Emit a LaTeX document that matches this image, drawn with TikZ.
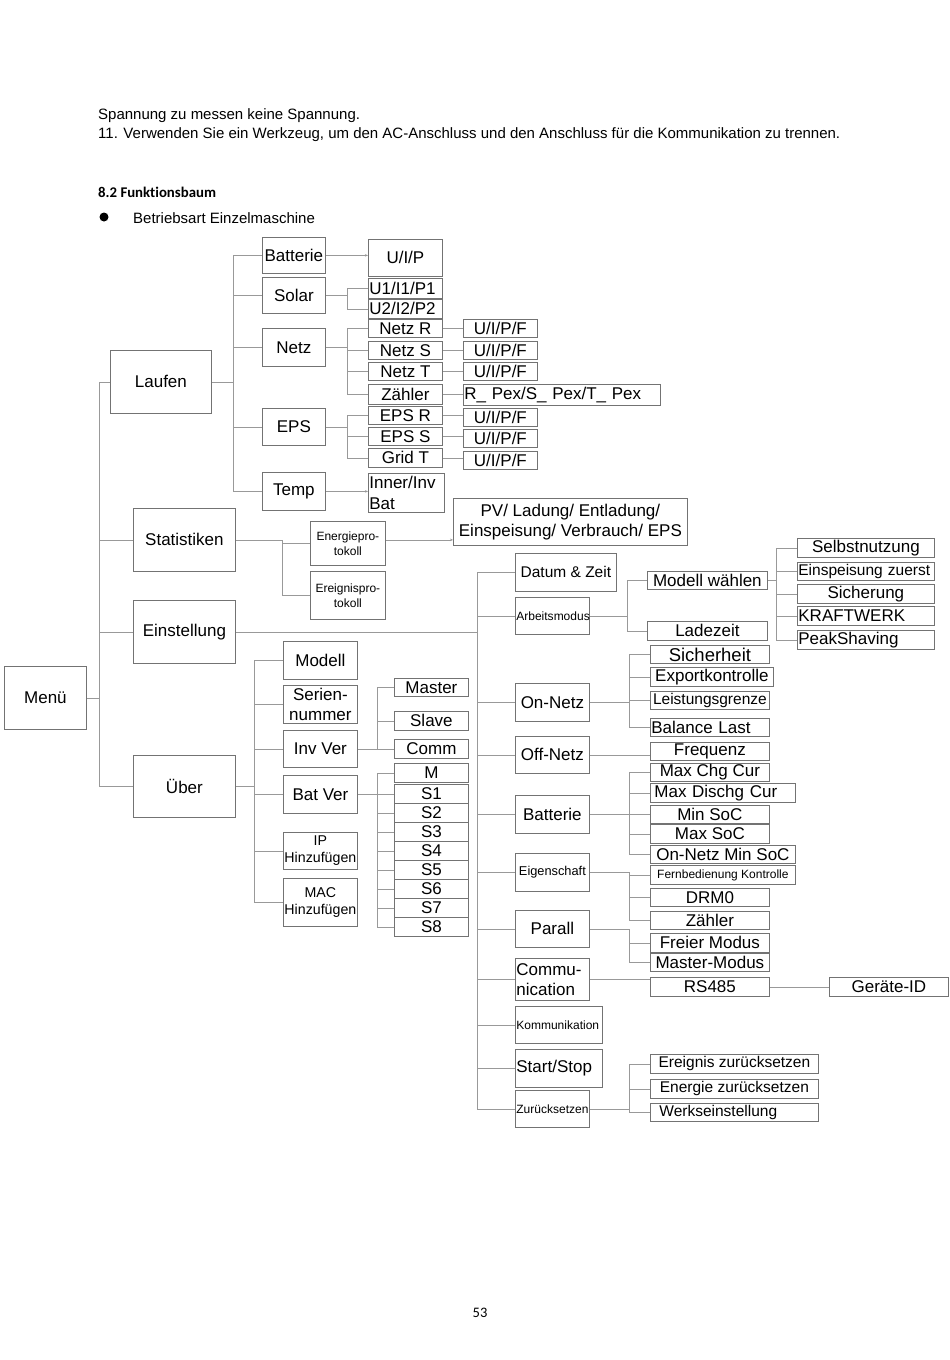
\documentclass[tikz,border=0pt]{standalone}
\usepackage{fontspec}
\setmainfont{Liberation Sans}
\newfontfamily\carlito{Carlito}[Ligatures=NoCommon]
\usetikzlibrary{arrows.meta}
\tikzset{wh/.style 2 args={minimum width=#1pt, minimum height=#2pt},
	lw/.style 2 args={wh={#1}{#2}, text width=#1pt-2pt, align=left}}

\begin{document}
\begin{tikzpicture}[x=1pt,y=-1pt]
	\tikzstyle{every node}+=[inner sep=1pt]
	\tikzstyle{bx}=[draw=black!55, line width=0.8pt, anchor=north west, align=center, font=\fontsize{17}{20.5}\selectfont]
	\tikzstyle{ln}=[draw=black!40, line width=0.8pt]
	\tikzstyle{ar}=[ln, -{Stealth[length=3pt,width=2.5pt]}]
	\tikzstyle{sm}=[font=\fontsize{12}{15}\selectfont]
	\tikzstyle{md}=[font=\fontsize{15.5}{18}\selectfont]
	\tikzstyle{hz}=[font=\fontsize{14.2}{17}\selectfont]
	\tikzstyle{txt}=[inner sep=0pt, anchor=base west, font=\fontsize{15}{18}\selectfont]
	\useasboundingbox (0,0) rectangle (950,1360);

	% page text
	\node[txt] (l1) at (98,119) {Spannung zu messen keine Spannung.};
	\node[txt] (l2) at (98,138) {11. Verwenden Sie ein Werkzeug, um den AC-Anschluss und den Anschluss für die Kommunikation zu trennen.};
	\node[txt, font=\carlito\bfseries\fontsize{14.8}{18}\selectfont] (sec) at (98,197) {8.2 Funktionsbaum};
	\fill (104,217) circle (4.5);
	\node[txt] (mode) at (133,223) {Betriebsart Einzelmaschine};
	\node[txt, anchor=base, font=\carlito\fontsize{14.5}{18}\selectfont] (page) at (480,1317) {53};

	% trunks
	\coordinate (tMenu) at (99,0);
	\coordinate (tLauf) at (233,0);
	\coordinate (tSol) at (347,0);
	\coordinate (tStat) at (282,0);
	\coordinate (tEin) at (477,0);
	\coordinate (tArb) at (627,0);
	\coordinate (tModw) at (776,0);
	\coordinate (tOn) at (629,0);
	\coordinate (tUb) at (254,0);
	\coordinate (tInv) at (377,0);

	% menu and first level
	\node[bx, wh={82}{63}] (menu) at (4,666) {Menü};
	\node[bx, wh={101}{63}] (lauf) at (110,350) {Laufen};
	\node[bx, wh={102}{63}] (stat) at (133,508) {Statistiken};
	\node[bx, wh={102}{63}] (einst) at (133,600) {Einstellung};
	\node[bx, wh={102}{62}] (ueber) at (133,755) {Über};

	% Laufen
	\node[bx, wh={63}{36}] (bat) at (262,237) {Batterie};
	\node[bx, wh={63}{36}] (sol) at (262,277) {Solar};
	\node[bx, wh={63}{38}] (netz) at (262,328) {Netz};
	\node[bx, wh={63}{37}] (eps) at (262,408) {EPS};
	\node[bx, wh={63}{38}] (temp) at (262,472) {Temp};
	\node[bx, wh={74}{37}] (uip) at (368,239) {U/I/P};
	\node[bx, lw={74}{20}] (upv1) at (368,278) {U1/I1/P1};
	\node[bx, lw={74}{19}] (upv2) at (368,299) {U2/I2/P2};
	\node[bx, wh={74}{18}] (netzR) at (368,319) {Netz R};
	\node[bx, wh={74}{18}] (netzS) at (368,341) {Netz S};
	\node[bx, wh={74}{18}] (netzT) at (368,362) {Netz T};
	\node[bx, wh={74}{20}] (zaehl) at (368,384) {Zähler};
	\node[bx, wh={74}{18}] (epsR) at (368,406) {EPS R};
	\node[bx, wh={74}{18}] (epsS) at (368,427) {EPS S};
	\node[bx, wh={74}{19}] (gridT) at (368,448) {Grid T};
	\node[bx, lw={76}{39}] (inner) at (368,473) {Inner/Inv\\Bat};
	\node[bx, wh={74}{18}] (fR) at (463,319) {U/I/P/F};
	\node[bx, wh={74}{18}] (fS) at (463,341) {U/I/P/F};
	\node[bx, wh={74}{18}] (fT) at (463,362) {U/I/P/F};
	\node[bx, lw={197}{21}] (pex) at (463,384) {R\_ Pex/S\_ Pex/T\_ Pex};
	\node[bx, wh={74}{18}] (feR) at (463,408) {U/I/P/F};
	\node[bx, wh={74}{18}] (feS) at (463,429) {U/I/P/F};
	\node[bx, wh={74}{18}] (fgT) at (463,451) {U/I/P/F};

	% Statistiken
	\node[bx, sm, wh={75}{44}] (energ) at (310,521) {Energiepro-\\tokoll};
	\node[bx, sm, wh={75}{48}] (ereig) at (310,571) {Ereignispro-\\tokoll};
	\node[bx, wh={234}{47}] (pv) at (453,498) {PV/ Ladung/ Entladung/\\Einspeisung/ Verbrauch/ EPS};

	% Einstellung
	\node[bx, md, wh={101}{38}] (datum) at (515,553) {Datum \& Zeit};
	\node[bx, sm, lw={74}{37}] (arbeit) at (515,597) {Arbeitsmodus};
	\node[bx, wh={74}{38}] (onnetz) at (515,683) {On-Netz};
	\node[bx, wh={74}{37}] (offnetz) at (515,736) {Off-Netz};
	\node[bx, wh={74}{38}] (batt) at (515,795) {Batterie};
	\node[bx, font=\fontsize{12.8}{15}\selectfont, wh={74}{38}] (eigen) at (515,853) {Eigenschaft};
	\node[bx, wh={74}{37}] (parall) at (515,910) {Parall};
	\node[bx, lw={74}{42}] (commu) at (515,958) {Commu-\\nication};
	\node[bx, sm, lw={87}{37}] (kommu) at (515,1006) {Kommunikation};
	\node[bx, lw={87}{38}] (start) at (515,1049) {Start/Stop};
	\node[bx, sm, lw={74}{37}] (zurueck) at (515,1090) {Zurücksetzen};

	\node[bx, wh={120}{18}] (modw) at (647,571) {Modell wählen};
	\node[bx, wh={120}{19}] (ladez) at (647,621) {Ladezeit};
	\node[bx, wh={137}{19}] (selbst) at (797,538) {Selbstnutzung};
	\node[bx, md, lw={137}{18}] (einsp) at (797,562) {Einspeisung zuerst};
	\node[bx, wh={137}{19}] (sicher) at (797,584) {Sicherung};
	\node[bx, lw={137}{19}] (kraft) at (797,606) {KRAFTWERK};
	\node[bx, lw={137}{19}] (peak) at (797,630) {PeakShaving};

	\node[bx, font=\fontsize{18.5}{20}\selectfont, wh={119}{18}] (sicherh) at (650,645) {Sicherheit};
	\node[bx, wh={123}{19}] (export) at (650,667) {Exportkontrolle};
	\node[bx, md, wh={119}{18}] (leist) at (650,691) {Leistungsgrenze};
	\node[bx, lw={119}{18}] (balance) at (650,718) {Balance Last};
	\node[bx, wh={119}{18}] (frequ) at (650,742) {Frequenz};
	\node[bx, wh={119}{18}] (maxchg) at (650,763) {Max Chg Cur};
	\node[bx, lw={145}{19}] (maxdis) at (650,783) {\hspace*{3pt}Max Dischg Cur};
	\node[bx, wh={119}{18}] (minsoc) at (650,805) {Min SoC};
	\node[bx, wh={119}{19}] (maxsoc) at (650,824) {Max SoC};
	\node[bx, wh={145}{18}] (onmin) at (650,845) {On-Netz Min SoC};
	\node[bx, sm, wh={145}{19}] (fern) at (650,865) {Fernbedienung Kontrolle};
	\node[bx, wh={119}{18}] (drm) at (650,888) {DRM0};
	\node[bx, wh={119}{18}] (zaehlB) at (650,911) {Zähler};
	\node[bx, wh={119}{19}] (freier) at (650,933) {Freier Modus};
	\node[bx, wh={119}{18}] (masterM) at (650,953) {Master-Modus};
	\node[bx, wh={119}{19}] (rs) at (650,977) {RS485};
	\node[bx, wh={119}{19}] (geraet) at (829,977) {Geräte-ID};
	\node[bx, md, wh={168}{19}] (resEv) at (650,1054) {Ereignis zurücksetzen};
	\node[bx, md, wh={168}{19}] (resEn) at (650,1079) {Energie zurücksetzen};
	\node[bx, md, lw={168}{18}] (werks) at (650,1103) {\hspace*{8pt}Werkseinstellung};

	% Über
	\node[bx, wh={74}{38}] (modell) at (283,641) {Modell};
	\node[bx, wh={74}{38}] (serien) at (283,685) {Serien-\\nummer};
	\node[bx, wh={74}{37}] (invver) at (283,730) {Inv Ver};
	\node[bx, wh={74}{38}] (batver) at (283,775) {Bat Ver};
	\node[bx, hz, wh={74}{37}] (ip) at (283,832) {IP\\Hinzufügen};
	\node[bx, hz, wh={74}{48}] (mac) at (283,878) {MAC\\Hinzufügen};
	\node[bx, wh={74}{18}] (master) at (394,678) {Master};
	\node[bx, wh={74}{19}] (slave) at (394,711) {Slave};
	\node[bx, wh={74}{19}] (comm) at (394,739) {Comm};
	\node[bx, wh={74}{19}] (sM) at (394,763) {M};
	\foreach \i in {1,...,8}
		\node[bx, wh={74}{19}] (s\i) at (394,765+19*\i) {S\i};

	% connectors
	\foreach \c in {lauf,stat,einst,ueber}
		\draw[ln] (menu.east) -| (tMenu |- \c.west) -- (\c.west);
	\foreach \c in {bat,sol,netz,eps,temp}
		\draw[ln] (lauf.east) -| (tLauf |- \c.west) -- (\c.west);
	\draw[ar] (bat.east) -- (bat.east -| uip.west);
	\draw[ar] (temp.east) -- (temp.east -| inner.west);
	\foreach \c in {upv1,upv2}
		\draw[ln] (sol.east) -| (tSol |- \c.west) -- (\c.west);
	\foreach \c in {netzR,netzS,netzT,zaehl}
		\draw[ln] (netz.east) -| (tSol |- \c.west) -- (\c.west);
	\foreach \c in {epsR,epsS,gridT}
		\draw[ln] (eps.east) -| (tSol |- \c.west) -- (\c.west);
	\foreach \a/\b in {netzR/fR,netzS/fS,netzT/fT,zaehl/pex,epsR/feR,epsS/feS,gridT/fgT}
		\draw[ln] (\a.east) -- (\a.east -| \b.west);

	\foreach \c in {energ,ereig}
		\draw[ln] (stat.east) -| (tStat |- \c.west) -- (\c.west);
	\draw[ar] (energ.east |- stat.east) -- (pv.west |- stat.east);

	\foreach \c in {datum,arbeit,onnetz,offnetz,batt,eigen,parall,commu,kommu,start,zurueck}
		\draw[ln] (einst.east) -| (tEin |- \c.west) -- (\c.west);
	\foreach \c in {modw,ladez}
		\draw[ln] (arbeit.east) -| (tArb |- \c.west) -- (\c.west);
	\foreach \c in {selbst,einsp,sicher,kraft,peak}
		\draw[ln] (modw.east) -| (tModw |- \c.west) -- (\c.west);
	\foreach \c in {sicherh,export,leist,balance}
		\draw[ln] (onnetz.east) -| (tOn |- \c.west) -- (\c.west);
	\draw[ln] (offnetz.east) -- (offnetz.east -| frequ.west);
	\foreach \c in {maxchg,maxdis,minsoc,maxsoc,onmin}
		\draw[ln] (batt.east) -| (tOn |- \c.west) -- (\c.west);
	\foreach \c in {fern,drm,zaehlB}
		\draw[ln] (eigen.east) -| (tOn |- \c.west) -- (\c.west);
	\foreach \c in {freier,masterM}
		\draw[ln] (parall.east) -| (tOn |- \c.west) -- (\c.west);
	\draw[ln] (commu.east) -- (commu.east -| rs.west);
	\draw[ln] (rs.east) -- (geraet.west);
	\foreach \c in {resEv,resEn,werks}
		\draw[ln] (zurueck.east) -| (tOn |- \c.west) -- (\c.west);

	\foreach \c in {modell,serien,invver,batver,ip,mac}
		\draw[ln] (ueber.east) -| (tUb |- \c.west) -- (\c.west);
	\foreach \c in {master,slave,comm}
		\draw[ln] (invver.east) -| (tInv |- \c.west) -- (\c.west);
	\foreach \c in {sM,s1,s2,s3,s4,s5,s6,s7,s8}
		\draw[ln] (batver.east) -| (tInv |- \c.west) -- (\c.west);
\end{tikzpicture}
\end{document}
